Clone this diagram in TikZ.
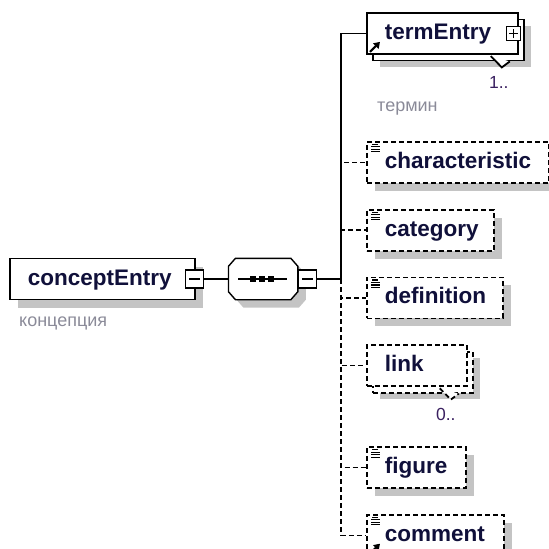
\documentclass[tikz,border=0pt]{standalone}
\usepackage{fontspec}
\setmainfont{Liberation Sans}
\usetikzlibrary{positioning, arrows.meta}

\definecolor{shadowgray}{HTML}{C4C4C4}
\definecolor{nametext}{HTML}{10103A}
\definecolor{notegray}{HTML}{8A8A98}
\definecolor{occurs}{HTML}{3A2060}

% little marks inside the element boxes
\newcommand{\docmark}[1]{%
  \draw[line width=1.1pt] ([shift={(6,3.5)}]#1.north west) -- +(6,0)
    ([shift={(5,6)}]#1.north west) -- +(9,0)
    ([shift={(5,8.5)}]#1.north west) -- +(9,0)
    ([shift={(5,11)}]#1.north west) -- +(9,0);}
\newcommand{\refmark}[1]{%
  \draw[line width=2.2pt, -{Triangle[length=6pt, width=7.5pt]}]
    ([shift={(4,-3)}]#1.south west) -- +(10,-10);}
\newcommand{\occursmark}[2]{%
  \filldraw[line width=1.8pt, fill=white, #2] ([shift={(-28,1.2)}]#1.south east)
    -- ([shift={(-17,12.5)}]#1.south east) -- ([shift={(-9,6.5)}]#1.south east);}

\begin{document}
\begin{tikzpicture}[x=1pt, y=-1pt, node distance=25pt,
  elem/.style={draw, line width=1.8pt, fill=white, text=nametext,
    font=\bfseries\fontsize{22.5}{26}\selectfont,
    minimum height=41pt, inner xsep=18pt, inner ysep=0pt,
    text height=16pt, text depth=4pt, text width=#1, align=left},
  optional/.style={dash pattern=on 5pt off 3pt},
  boxshadow/.style={preaction={draw=none, fill=shadowgray,
    transform canvas={shift={(#1,#1)}}}},
  backcopy/.style={preaction={draw, fill=white, line width=1.8pt, #1,
    transform canvas={shift={(6,6.5)}}}},
  foldminus/.style={draw, fill=white, line width=1.3pt, minimum size=18pt, inner sep=0pt,
    path picture={\draw[line width=1.3pt]
      ([xshift=3.5pt]path picture bounding box.west) --
      ([xshift=-3.5pt]path picture bounding box.east);}},
  foldplus/.style={draw, fill=white, line width=1.3pt, minimum size=14pt, inner sep=0pt,
    path picture={\draw[line width=1.3pt]
      ([xshift=2.5pt]path picture bounding box.west) --
      ([xshift=-2.5pt]path picture bounding box.east)
      ([yshift=2.5pt]path picture bounding box.south) --
      ([yshift=-2.5pt]path picture bounding box.north);}},
  seqbox/.style={minimum width=69pt, minimum height=41pt, inner sep=0pt},
  conn/.style={line width=1.4pt},
  note/.style={font=\fontsize{18}{21}\selectfont, text=notegray, inner sep=0pt},
  occ/.style={font=\fontsize{17.5}{20}\selectfont, text=occurs, inner sep=0pt}]

\useasboundingbox (0,0) rectangle (549,549);

\node[elem=149pt, boxshadow=8] (concept) at (9,279) [anchor=west] {conceptEntry};
\node[foldminus] (cmin) at ([xshift=-1pt]concept.east) {};

% sequence compositor
\node[seqbox] (seq) [right=24pt of cmin] {};
\draw[line width=1.4pt, fill=white, boxshadow=8]
  ([shift={(7,0)}]seq.north west) -- ([shift={(-7,0)}]seq.north east)
  -- ([shift={(0,8)}]seq.north east) -- ([shift={(0,-8)}]seq.south east)
  -- ([shift={(-7,0)}]seq.south east) -- ([shift={(7,0)}]seq.south west)
  -- ([shift={(0,-8)}]seq.south west) -- ([shift={(0,8)}]seq.north west) -- cycle;
\draw[conn] ([xshift=-25pt]seq.center) -- ([xshift=24pt]seq.center);
\foreach \dx in {-10,-1,8}
  \fill ([xshift=\dx pt]seq.center) +(-2.7,-2.7) rectangle +(2.7,2.7);
\node[foldminus] (smin) [right=0pt of seq] {};
\coordinate[right=24pt of smin] (bus);

% child elements
\node[elem=115pt, boxshadow=13, backcopy=solid] (term) at (366,33.5) [anchor=west] {termEntry};
\node[foldplus] (tplus) at ([xshift=-5pt]term.east) {};
\node[elem=146pt, optional, boxshadow=8] (charac) [below=86pt of term.south west, anchor=north west] {characteristic};
\node[elem=91pt, optional, boxshadow=8] (categ) [below=of charac.south west, anchor=north west] {category};
\node[elem=100pt, optional, boxshadow=8] (defin) [below=of categ.south west, anchor=north west] {definition};
\node[elem=64pt, optional, boxshadow=13, backcopy=optional] (link) [below=of defin.south west, anchor=north west] {link};
\node[elem=63pt, optional, boxshadow=8] (figure) [below=59pt of link.south west, anchor=north west] {figure};
\node[elem=101pt, optional, boxshadow=8] (comment) [below=of figure.south west, anchor=north west] {comment};

\occursmark{term}{solid}
\occursmark{link}{optional}
\docmark{charac} \docmark{categ} \docmark{defin} \docmark{figure} \docmark{comment}
\refmark{term} \refmark{comment}

\node[note, anchor=west] (cnote) at ([shift={(10,23)}]concept.south west) {концепция};
\node[note, anchor=west] (tnote) at ([shift={(11,54)}]term.south west) {термин};
\node[occ] (tocc) at ([shift={(-20,28)}]term.south east) {1..};
\node[occ] (locc) at ([shift={(-22,27)}]link.south east) {0..};

\draw[conn] (cmin) -- (seq);
\draw[conn] (smin) -- (bus);
\draw[conn] (bus) |- (term);
\draw[conn, optional] (bus) |- (charac);
\draw[conn, optional] (bus) |- (categ);
\draw[conn, optional] (bus) |- (defin);
\draw[conn, optional] (bus) |- (link);
\draw[conn, optional] (bus) |- (figure);
\draw[conn, optional] (bus) |- (comment);
\end{tikzpicture}
\end{document}
